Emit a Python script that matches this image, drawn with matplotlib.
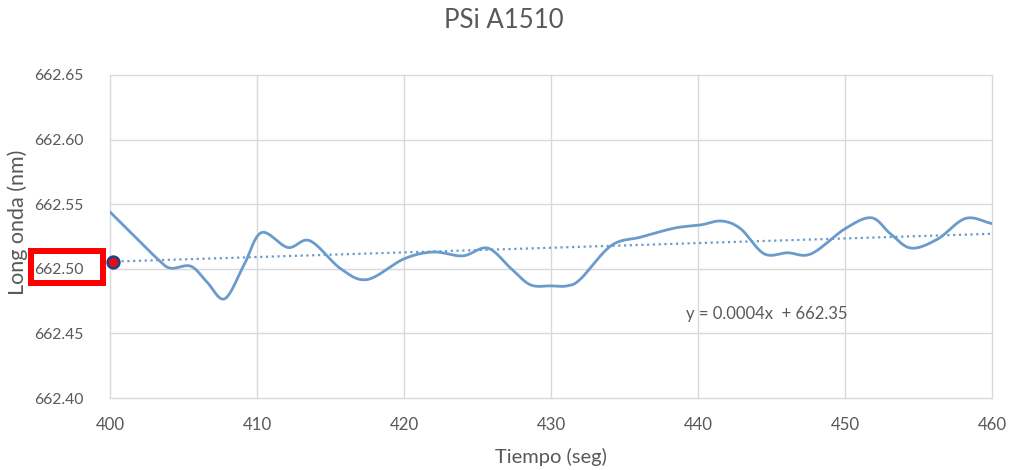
import numpy as np
import matplotlib
matplotlib.use("Agg")
import matplotlib.pyplot as plt
from matplotlib.patches import Rectangle

plt.rcParams['font.family'] = ['Lato', 'DejaVu Sans']

# ---- data ----
tiempo = [400.0, 401.6, 403.2, 404.1, 405.5, 406.6, 407.8, 409.1, 410.3, 412.1,
          413.6, 415.7, 417.5, 420.0, 422.0, 424.0, 425.7, 427.3, 428.6, 430.0,
          431.1, 432.0, 434.1, 436.1, 438.4, 440.2, 441.6, 442.9, 444.5, 446.1,
          447.7, 450.0, 451.8, 453.1, 454.5, 456.3, 458.2, 460.0]
long_onda = [662.544, 662.526, 662.508, 662.5005, 662.502, 662.4897, 662.4768, 662.5026,
             662.528, 662.5165, 662.5217, 662.500, 662.4917, 662.5077, 662.513, 662.510,
             662.516, 662.500, 662.4876, 662.4868, 662.4868, 662.492, 662.518, 662.5245,
             662.5315, 662.534, 662.537, 662.531, 662.5116, 662.5124, 662.5116, 662.531,
             662.5395, 662.527, 662.516, 662.523, 662.539, 662.535]
trend_slope = 0.00036
trend_intercept = 662.3615
equation_label = "y = 0.0004x  + 662.35"
x_ticks = [400, 410, 420, 430, 440, 450, 460]
y_ticks = [662.40, 662.45, 662.50, 662.55, 662.60, 662.65]
marker_point = (400.2, 662.5055)


def catmull_rom(xs, ys, n=20):
    P = np.column_stack([xs, ys])
    P = np.vstack([2 * P[0] - P[1], P, 2 * P[-1] - P[-2]])
    out = []
    t = np.linspace(0, 1, n, endpoint=False)[:, None]
    for i in range(1, len(P) - 2):
        p0, p1, p2, p3 = P[i - 1], P[i], P[i + 1], P[i + 2]
        seg = 0.5 * ((2 * p1) + (-p0 + p2) * t + (2 * p0 - 5 * p1 + 4 * p2 - p3) * t ** 2
                     + (-p0 + 3 * p1 - 3 * p2 + p3) * t ** 3)
        out.append(seg)
    out.append(P[-2][None, :])
    out = np.vstack(out)
    return out[:, 0], out[:, 1]


W, H = 1009, 470
fig = plt.figure(figsize=(W / 100, H / 100), dpi=100)
ax = fig.add_axes([110 / W, 1 - 398 / H, (992 - 110) / W, (398 - 75) / H])

text_col = '#595959'
line_col = '#6a9bcb'
grid_col = '#d9d9d9'

sx, sy = catmull_rom(tiempo, long_onda)
ax.plot(sx, sy, color=line_col, lw=2.0, solid_capstyle='round', zorder=3)

tx = np.array([x_ticks[0], x_ticks[-1]], dtype=float)
ax.plot(tx, trend_slope * tx + trend_intercept, color=line_col, lw=1.6,
        linestyle=(0, (1, 1.6)), zorder=2)

ax.set_xlim(x_ticks[0], x_ticks[-1])
ax.set_ylim(y_ticks[0], y_ticks[-1])
ax.set_xticks(x_ticks)
ax.set_yticks(y_ticks)
ax.set_yticklabels([f"{v:.2f}" for v in y_ticks])
ax.set_xticklabels([str(v) for v in x_ticks])
ax.tick_params(length=0, labelcolor=text_col)
ax.tick_params(axis='y', pad=19, labelsize=11.3)
ax.tick_params(axis='x', pad=14, labelsize=12.2)
for s in ax.spines.values():
    s.set_visible(False)
ax.grid(True, color=grid_col, lw=1.0)
for gl in ax.get_xgridlines() + ax.get_ygridlines():
    gl.set_clip_on(False)
ax.set_axisbelow(True)

ax.text(439.2, 662.465, equation_label, fontsize=12, color=text_col, va='center', ha='left')

ax.plot([marker_point[0]], [marker_point[1]], marker='o', markersize=8.5,
        markerfacecolor='#e01010', markeredgecolor='#1f3f8f', markeredgewidth=1.8,
        zorder=5, clip_on=False)

fig.text(504 / W, 1 - 20 / H, "PSi A1510", fontsize=18.5, color=text_col, ha='center', va='center')
fig.text(551 / W, 1 - 457 / H, "Tiempo (seg)", fontsize=14.5, color=text_col, ha='center', va='center')
fig.text(18 / W, 1 - 222 / H, "Long onda (nm)", fontsize=15.5, color=text_col, ha='center',
         va='center', rotation=90)

fig.patches.append(Rectangle((30.7 / W, 1 - 282.7 / H), (103 - 30.7) / W, (282.7 - 250.7) / H,
                             transform=fig.transFigure, fill=False, edgecolor='#ff0000',
                             lw=4.3, zorder=10))

fig.savefig("out.png", dpi=100)
